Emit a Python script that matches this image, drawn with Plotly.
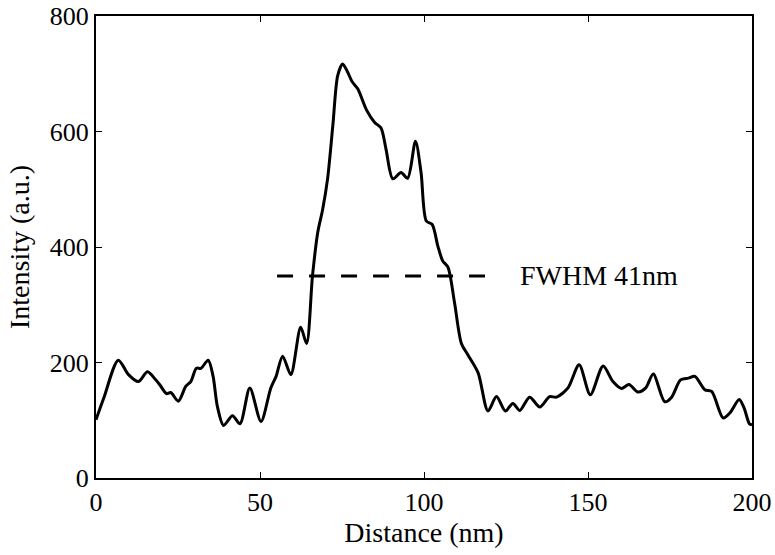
import plotly.graph_objects as go

# intensity profile
distance = [0, 2.4, 6.8, 9.9, 12.9, 15.7, 18.2, 19.5, 21.5, 22.8, 25.1, 27.4, 28.9,
            30.6, 32.0, 34.2, 35.7, 37.0, 38.9, 41.6, 43.9, 46.9, 50.3, 53.3, 54.9,
            56.9, 59.4, 62.4, 64.2, 66.0, 67.6, 69.1, 70.6, 72.2, 73.7, 75.2, 76.7,
            78.1, 79.8, 82.5, 84.9, 86.9, 88.4, 90.5, 93.0, 95.0, 97.4, 99.1, 100.7,
            102.5, 104.2, 105.7, 107.3, 109.3, 111.4, 113.4, 116.5, 119.5, 122.1,
            124.8, 127.1, 129.2, 132.2, 135.3, 138.3, 140.4, 143.9, 147.3, 150.7,
            154.6, 157.6, 160.2, 162.5, 165.2, 167.6, 169.9, 173.4, 175.5, 178.2,
            180.6, 182.6, 185.6, 187.7, 191.2, 193.3, 196.1, 197.6, 199.2, 200]
intensity = [101, 139, 204, 179, 167, 184, 170, 161, 146, 148, 133, 159, 167,
             190, 190, 204, 176, 124, 91, 108, 94, 156, 98, 156, 176,
             211, 179, 261, 233, 350, 425, 465, 518, 610, 697, 717, 703,
             686, 674, 637, 616, 606, 570, 518, 529, 519, 583, 529, 445,
             439, 402, 376, 365, 304, 233, 213, 182, 116, 141,
             116, 129, 117, 140, 123, 141, 140, 156, 196, 144,
             194, 167, 155, 162, 149, 156, 180, 132, 140, 170,
             173, 176, 153, 150, 104, 113, 136, 121, 94, 92]

fwhm_x = [55.2, 118.6]
fwhm_y = [350, 350]
fwhm_label = "FWHM 41nm"

serif = "Liberation Serif, DejaVu Serif, serif"
tick_font = dict(family=serif, size=26, color="black")
label_font = dict(family=serif, size=28, color="black")

fig = go.Figure()
fig.add_trace(go.Scatter(x=distance, y=intensity, mode="lines",
                         line=dict(color="black", width=3, shape="spline", smoothing=0.8)))
fig.add_trace(go.Scatter(x=fwhm_x, y=fwhm_y, mode="lines",
                         line=dict(color="black", width=3, dash="16px,16px")))
fig.add_annotation(x=128.7, y=350, text=fwhm_label, showarrow=False,
                   xanchor="left", yanchor="middle", font=label_font)

axis_style = dict(showgrid=False, zeroline=False, showline=True, linecolor="black",
                  linewidth=2, mirror="ticks", ticks="inside", ticklen=6,
                  tickcolor="black", tickfont=tick_font, automargin=False,
                  ticklabeloverflow="allow")

fig.update_xaxes(range=[0, 200], tickvals=[0, 50, 100, 150, 200],
                 title=dict(text="Distance (nm)", font=label_font, standoff=3), **axis_style)
fig.update_yaxes(range=[0, 800], tickvals=[0, 200, 400, 600, 800],
                 title=dict(text="Intensity (a.u.)", font=label_font, standoff=12), **axis_style)

fig.update_layout(width=775, height=555, showlegend=False,
                  plot_bgcolor="white", paper_bgcolor="white",
                  margin=dict(l=96, r=23, t=16, b=77), font=tick_font)

# drop the default body margin so the figure sits at the page corner
fig.write_html("out.html", config={"displayModeBar": False},
               post_script="document.body.style.margin = '0';")
